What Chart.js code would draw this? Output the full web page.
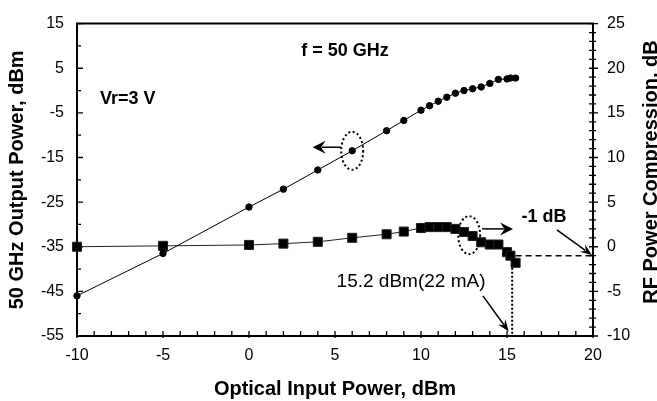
<!DOCTYPE html>
<html><head><meta charset="utf-8">
<script src="https://cdn.jsdelivr.net/npm/chart.js@4.4.0/dist/chart.umd.min.js"></script>
<style>html,body{margin:0;padding:0;background:#fff;overflow:hidden}#wrap{width:657px;height:401px;position:relative}</style>
</head><body><div id="wrap"><canvas id="c" width="657" height="401"></canvas></div>
<script>
// ---- data ----
const inputPower  = [-10,-5,0,2,4,6,8,9,10,10.5,11,11.5,12,12.5,13,13.5,14,14.5,15,15.2,15.5];
const outputPower = [-46,-36.5,-26.1,-22.1,-17.8,-13.5,-9.0,-6.7,-4.4,-3.4,-2.4,-1.5,-0.6,0.0,0.4,0.8,1.6,2.5,2.6,2.8,2.8];
const compression = [0,0.1,0.2,0.35,0.55,1.0,1.4,1.7,2.1,2.2,2.2,2.2,2.0,1.65,1.2,0.5,0.25,0.25,-0.6,-1.0,-1.8];
const xTickLabels      = [-10,-5,0,5,10,15,20];
const leftTickLabels   = [-55,-45,-35,-25,-15,-5,5,15];
const rightTickLabels  = [-10,-5,0,5,10,15,20,25];
const xTitle = 'Optical Input Power, dBm';
const leftTitle = '50 GHz Output Power, dBm';
const rightTitle = 'RF Power Compression, dB';
const compressionPoint = 15.3;   // dotted marker position (dBm)
const compressionLevel = -1;     // dB

const FONT = '"Liberation Sans", Arial, Helvetica, sans-serif';
Chart.defaults.font.family = FONT;
Chart.defaults.color = '#000';

function arrow(ctx, x1, y1, x2, y2, hl, hw, lw) {
  const a = Math.atan2(y2 - y1, x2 - x1);
  ctx.save();
  ctx.setLineDash([]);
  ctx.lineWidth = lw; ctx.strokeStyle = '#000'; ctx.fillStyle = '#000';
  ctx.beginPath();
  ctx.moveTo(x1, y1);
  ctx.lineTo(x2 - Math.cos(a) * hl * 0.7, y2 - Math.sin(a) * hl * 0.7);
  ctx.stroke();
  ctx.translate(x2, y2); ctx.rotate(a);
  ctx.beginPath();
  ctx.moveTo(0, 0);
  ctx.lineTo(-hl, -hw / 2);
  ctx.lineTo(-hl * 0.65, 0);
  ctx.lineTo(-hl, hw / 2);
  ctx.closePath();
  ctx.fill();
  ctx.restore();
}

const decor = {
  id: 'decor',
  beforeDatasetsDraw(chart) {
    const {ctx, chartArea: a, scales} = chart;
    const sx = scales.x, sl = scales.y, sr = scales.y2;
    ctx.save();
    ctx.strokeStyle = '#000';
    // frame
    ctx.lineWidth = 2;
    ctx.beginPath();
    ctx.moveTo(a.left, a.top); ctx.lineTo(a.right, a.top);
    ctx.moveTo(a.left, a.top - 1); ctx.lineTo(a.left, a.bottom + 1);
    ctx.moveTo(a.left - 1, a.bottom); ctx.lineTo(a.right + 1, a.bottom);
    ctx.moveTo(a.right, a.top - 1); ctx.lineTo(a.right, a.bottom + 1);
    ctx.stroke();
    ctx.lineWidth = 1.3;
    ctx.beginPath();
    // left axis ticks (every 5, major every 10)
    for (let v = sl.min; v <= sl.max + 1e-9; v += 5) {
      const y = sl.getPixelForValue(v);
      const major = Math.abs(((v - sl.min) % 10)) < 1e-9;
      ctx.moveTo(a.left, y); ctx.lineTo(a.left + (major ? 6 : 4), y);
    }
    // bottom axis ticks (every 1)
    for (let v = sx.min; v <= sx.max + 1e-9; v += 1) {
      const x = sx.getPixelForValue(v);
      const major = Math.abs(v % 5) < 1e-9;
      ctx.moveTo(x, a.bottom + (major ? 2 : 0)); ctx.lineTo(x, a.bottom - 5);
    }
    // right axis ticks (every 1, major every 5)
    for (let v = sr.min; v <= sr.max + 1e-9; v += 1) {
      const y = sr.getPixelForValue(v);
      const major = Math.abs(v % 5) < 1e-9;
      ctx.moveTo(a.right - 4, y); ctx.lineTo(a.right + (major ? 5 : 3), y);
    }
    ctx.stroke();
    ctx.restore();
  },
  afterDatasetsDraw(chart) {
    const {ctx, chartArea: a, scales} = chart;
    const X = v => scales.x.getPixelForValue(v);
    const L = v => scales.y.getPixelForValue(v);
    const R = v => scales.y2.getPixelForValue(v);
    ctx.save();
    ctx.fillStyle = '#000'; ctx.strokeStyle = '#000';

    // dashed -1 dB line and dotted vertical marker
    ctx.lineWidth = 1.5;
    ctx.setLineDash([6, 4]);
    ctx.beginPath();
    ctx.moveTo(X(inputPower[inputPower.length - 1]), R(compressionLevel));
    ctx.lineTo(X(20), R(compressionLevel));
    ctx.stroke();
    ctx.lineWidth = 2;
    ctx.setLineDash([2, 2]);
    ctx.beginPath();
    ctx.moveTo(X(compressionPoint), R(compressionLevel));
    ctx.lineTo(X(compressionPoint), R(-10));
    ctx.stroke();

    // dotted ellipses
    ctx.lineWidth = 2;
    ctx.setLineDash([2, 2.5]);
    ctx.beginPath();
    ctx.ellipse(X(6), L(-13.5), 11, 19, 0, 0, Math.PI * 2);
    ctx.stroke();
    ctx.beginPath();
    ctx.ellipse(X(12.8), R(1.3), 11, 19, 0, 0, Math.PI * 2);
    ctx.stroke();
    ctx.setLineDash([]);

    // arrows
    arrow(ctx, X(5.35), L(-12.7), X(3.7), L(-12.7), 13, 13, 1.5);
    arrow(ctx, X(13.55), R(2.0), X(15.35), R(2.0), 13, 13, 1.5);
    arrow(ctx, X(17.9), R(1.9), X(19.95), R(-0.95), 12, 9, 1.5);
    arrow(ctx, X(13.6), R(-5.5), X(15.1), R(-9.5), 12, 9, 1.5);

    // text annotations
    ctx.textAlign = 'center'; ctx.textBaseline = 'middle';
    ctx.font = 'bold 18px ' + FONT;
    ctx.fillText('f = 50 GHz', X(5.58), L(8.9));
    ctx.fillText('-1 dB', X(17.15), R(3.3));
    ctx.textAlign = 'left';
    ctx.fillText('Vr=3 V', X(-8.66), L(-1.8));
    ctx.textAlign = 'center';
    ctx.font = '19px ' + FONT;
    ctx.fillText('15.2 dBm(22 mA)', X(9.42), R(-3.9));

    // axis titles
    ctx.font = 'bold 20px ' + FONT;
    ctx.fillText(xTitle, (a.left + a.right) / 2, 389);
    ctx.save();
    ctx.translate(17, (a.top + a.bottom) / 2);
    ctx.rotate(-Math.PI / 2);
    ctx.fillText(leftTitle, 0, 0);
    ctx.restore();
    ctx.save();
    ctx.translate(651.5, 172);
    ctx.rotate(-Math.PI / 2);
    ctx.fillText(rightTitle, 0, 0);
    ctx.restore();
    ctx.restore();
  }
};

const tickFont = {size: 16, family: FONT};

new Chart(document.getElementById('c'), {
  type: 'line',
  data: {
    datasets: [
      {
        label: 'Output power',
        data: inputPower.map((x, i) => ({x, y: outputPower[i]})),
        yAxisID: 'y',
        borderColor: '#000', backgroundColor: '#000',
        borderWidth: 1, pointStyle: 'circle', pointRadius: 3.2,
        tension: 0, clip: false
      },
      {
        label: 'Compression',
        data: inputPower.map((x, i) => ({x, y: compression[i]})),
        yAxisID: 'y2',
        borderColor: '#222', backgroundColor: '#000',
        borderWidth: 1, pointStyle: 'rect', pointRadius: 6.4,
        tension: 0, clip: false
      }
    ]
  },
  options: {
    responsive: false, animation: false,
    layout: {padding: {top: 15, left: 0, right: 0, bottom: 0}},
    plugins: {legend: {display: false}, tooltip: {enabled: false}},
    scales: {
      x: {
        type: 'linear', min: -10, max: 20,
        afterBuildTicks: s => { s.ticks = xTickLabels.map(v => ({value: v})); },
        afterFit: s => { s.height = 65; },
        grid: {display: false, drawTicks: false}, border: {display: false},
        ticks: {font: tickFont, padding: 10, maxRotation: 0, color: '#000'}
      },
      y: {
        type: 'linear', position: 'left', min: -55, max: 15,
        afterBuildTicks: s => { s.ticks = leftTickLabels.map(v => ({value: v})); },
        afterFit: s => { s.width = 77; },
        grid: {display: false, drawTicks: false}, border: {display: false},
        ticks: {font: tickFont, padding: 13, color: '#000'}
      },
      y2: {
        type: 'linear', position: 'right', min: -10, max: 25,
        afterBuildTicks: s => { s.ticks = rightTickLabels.map(v => ({value: v})); },
        afterFit: s => { s.width = 64; },
        grid: {display: false, drawTicks: false}, border: {display: false},
        ticks: {font: tickFont, padding: 14, color: '#000'}
      }
    }
  },
  plugins: [decor]
});
</script></body></html>
